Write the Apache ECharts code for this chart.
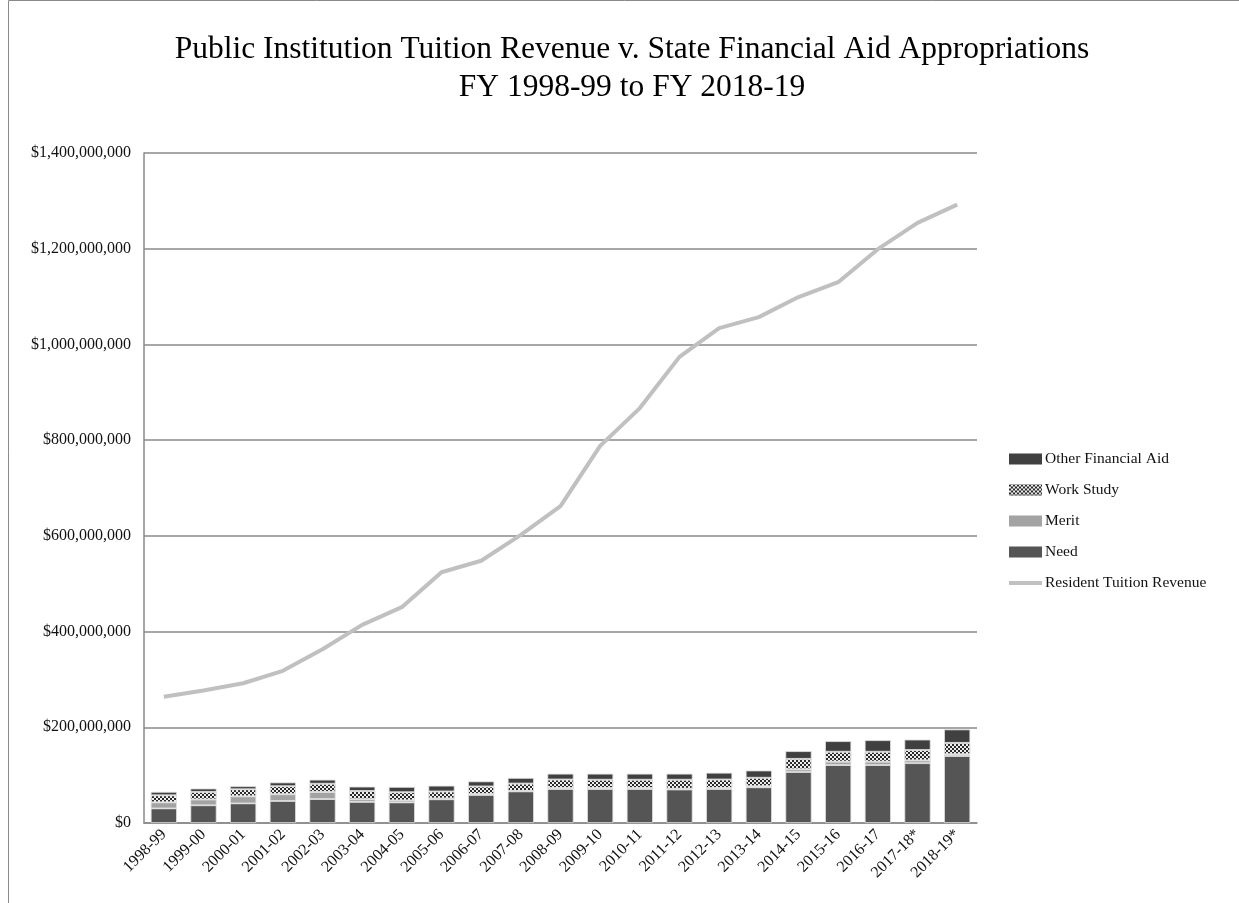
<!DOCTYPE html>
<html>
<head>
<meta charset="utf-8">
<script src="https://cdn.jsdelivr.net/npm/echarts@6/dist/echarts.min.js"></script>
<style>
html,body{margin:0;padding:0;background:#fff;}
#chart{width:1239px;height:903px;}
</style>
</head>
<body>
<div id="chart"></div>
<script>
const categories = ['1998-99','1999-00','2000-01','2001-02','2002-03','2003-04','2004-05','2005-06','2006-07','2007-08','2008-09','2009-10','2010-11','2011-12','2012-13','2013-14','2014-15','2015-16','2016-17','2017-18*','2018-19*'];
// values in millions of dollars
const needM = [30.5, 37, 41, 46, 50, 44, 43, 49.5, 58.5, 66, 71, 71, 71, 70, 71, 74.6, 106.5, 121, 121, 125, 140];
const meritM = [12.5, 12, 14.6, 14, 14.6, 5.6, 4, 1.5, 2, 1, 2, 2, 2, 1.5, 2, 2, 5.6, 7, 7, 5.6, 3.5];
const workStudyM = [15, 16, 15, 17, 17.5, 17.4, 17.4, 15, 16, 15.5, 18, 17.5, 17.5, 19, 18, 18, 22, 21, 21, 22, 24];
const otherAidM = [7, 7, 6.3, 7.7, 8.4, 9, 11, 12, 10.4, 11.7, 12, 12.5, 12.5, 12.5, 14, 15, 16, 22, 24, 21.7, 28];
const tuitionM = [264, 277, 292, 318, 363, 414, 451, 524, 548, 602, 662, 788, 867, 974, 1034, 1057, 1099, 1130, 1199, 1254, 1292];

const toDollars = arr => arr.map(v => Math.round(v * 1e6));
const FONT = '"Liberation Serif", "DejaVu Serif", serif';

const chart = echarts.init(document.getElementById('chart'), null, {renderer: 'canvas'});
const barBase = {type: 'bar', stack: 'aid', barWidth: '66%', itemStyle: {borderColor: '#e0e0e0', borderWidth: 0.8}};
chart.setOption({
  animation: false,
  backgroundColor: '#fff',
  textStyle: {fontFamily: FONT},
  title: {
    text: 'Public Institution Tuition Revenue v. State Financial Aid Appropriations\nFY 1998-99 to FY 2018-19',
    left: 627, top: 26, textAlign: 'center',
    textStyle: {fontFamily: FONT, fontSize: 31.5, fontWeight: 'normal', color: '#000', lineHeight: 38}
  },
  graphic: [{
    type: 'rect', silent: true,
    shape: {x: 8.5, y: 0.5, width: 1400, height: 1000},
    style: {fill: 'none', stroke: '#8a8a8a', lineWidth: 1}
  }],
  legend: {
    orient: 'vertical', left: 1004, top: 446, itemGap: 15,
    itemWidth: 33, itemHeight: 11,
    itemStyle: {borderWidth: 0},
    textStyle: {fontFamily: FONT, fontSize: 15.5, color: '#111', padding: [0,0,0,-2]},
    data: [
      {name: 'Other Financial Aid', icon: 'rect'},
      {name: 'Work Study', icon: 'rect'},
      {name: 'Merit', icon: 'rect'},
      {name: 'Need', icon: 'rect'},
      {name: 'Resident Tuition Revenue', icon: 'path://M0,0 L33,0 L33,4 L0,4 Z'}
    ]
  },
  grid: {left: 144, top: 153, right: 262, bottom: 80, containLabel: false},
  xAxis: {
    type: 'category', data: categories,
    axisLine: {lineStyle: {color: '#8a8a8a', width: 1.5}},
    axisTick: {show: false},
    axisLabel: {rotate: 45, fontFamily: FONT, fontSize: 16, color: '#111', margin: 9, interval: 0}
  },
  yAxis: {
    type: 'value', min: 0, max: 1400000000, interval: 200000000,
    axisLine: {show: true, lineStyle: {color: '#8a8a8a', width: 1.5}},
    axisTick: {show: false},
    splitLine: {lineStyle: {color: '#8a8a8a', width: 1.5}},
    axisLabel: {
      fontFamily: FONT, fontSize: 16, color: '#111', margin: 13,
      formatter: v => '$' + v.toLocaleString('en-US')
    }
  },
  series: [
    Object.assign({}, barBase, {name: 'Need', data: toDollars(needM), itemStyle: Object.assign({}, barBase.itemStyle, {color: '#555555'})}),
    Object.assign({}, barBase, {name: 'Merit', data: toDollars(meritM), itemStyle: Object.assign({}, barBase.itemStyle, {color: '#a3a3a3'})}),
    Object.assign({}, barBase, {name: 'Work Study', data: toDollars(workStudyM), itemStyle: Object.assign({}, barBase.itemStyle, {
      color: '#2a2a2a',
      decal: {symbol: 'rect', symbolSize: 1, color: '#eeeeee', dashArrayX: [[2, 2], [0, 2, 2, 0]], dashArrayY: [2, 0]}
    })}),
    Object.assign({}, barBase, {name: 'Other Financial Aid', data: toDollars(otherAidM), itemStyle: Object.assign({}, barBase.itemStyle, {color: '#404040'})}),
    {
      name: 'Resident Tuition Revenue', type: 'line', data: toDollars(tuitionM),
      symbol: 'none', smooth: false, z: 5,
      lineStyle: {color: '#c0c0c0', width: 4}, itemStyle: {color: '#c0c0c0'}
    }
  ]
});
</script>
</body>
</html>
